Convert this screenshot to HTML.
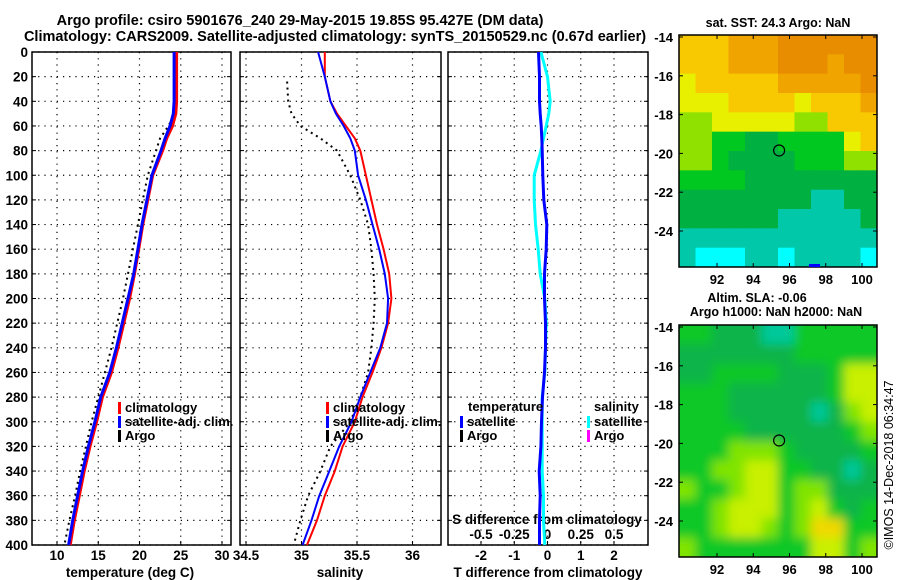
<!DOCTYPE html>
<html><head><meta charset="utf-8">
<style>
html,body{margin:0;padding:0;background:#fff;}
svg{display:block;font-family:"Liberation Sans",Arial,sans-serif;font-weight:bold;}
text{fill:#000;}
</style></head>
<body>
<svg id="fig" width="900" height="580" viewBox="0 0 900 580" xmlns="http://www.w3.org/2000/svg">
<defs><filter id="blur" x="-0.2" y="-0.2" width="1.4" height="1.4"><feGaussianBlur stdDeviation="5"/></filter>
<clipPath id="clipTop"><rect x="679" y="35" width="198" height="232"/></clipPath>
<clipPath id="clipBot"><rect x="679" y="325" width="198" height="232"/></clipPath></defs>
<text x="300" y="25" font-size="14.5" text-anchor="middle">Argo profile: csiro 5901676_240 29-May-2015 19.85S 95.427E (DM data)</text>
<text x="335" y="41" font-size="14.5" text-anchor="middle">Climatology: CARS2009. Satellite-adjusted climatology: synTS_20150529.nc (0.67d earlier)</text>
<g id="g"></g>
</svg>
<script>
// ---- data ----
const depths = [0,20,40,50,60,70,80,100,120,140,160,180,200,220,240,260,280,300,320,340,360,380,400];
const tempClim = [24.5,24.5,24.5,24.4,24.0,23.3,22.8,21.6,21.0,20.4,19.9,19.4,18.8,18.1,17.4,16.6,15.5,14.8,14.0,13.3,12.7,12.1,11.6];
const tempSat  = [24.2,24.2,24.2,24.1,23.7,23.1,22.6,21.5,20.9,20.3,19.8,19.3,18.6,17.9,17.2,16.4,15.3,14.6,13.8,13.1,12.5,11.9,11.4];
const tempArgo = [24.5,24.5,24.4,24.3,23.5,22.5,22.0,21.0,20.4,19.8,19.2,18.6,18.0,17.3,16.6,15.8,15.0,14.2,13.5,12.8,12.2,11.5,10.9];
const salClim  = [35.21,35.21,35.26,35.32,35.40,35.48,35.53,35.58,35.63,35.68,35.74,35.79,35.81,35.78,35.72,35.64,35.55,35.48,35.37,35.30,35.21,35.14,35.05];
const salSat   = [35.15,35.21,35.26,35.31,35.38,35.44,35.48,35.51,35.58,35.64,35.70,35.75,35.78,35.77,35.71,35.62,35.53,35.45,35.34,35.25,35.16,35.09,35.01];
const argoSalDepths = [24,40,50,60,70,80,100,120,140,160,180,200,220,240,260,280,300,320,340,360,380,400];
const salArgo  = [34.87,34.88,34.91,34.99,35.17,35.32,35.44,35.53,35.60,35.63,35.65,35.66,35.65,35.63,35.60,35.53,35.44,35.26,35.17,35.06,34.99,34.93];
const tDiffSat = [-0.27,-0.24,-0.24,-0.22,-0.19,-0.17,-0.16,-0.14,-0.11,-0.02,-0.04,-0.09,-0.09,-0.06,-0.06,-0.09,-0.15,-0.18,-0.2,-0.25,-0.22,-0.24,-0.24];
const sDiffSat = [-0.05,0.0,0.02,0.01,-0.01,-0.03,-0.05,-0.10,-0.10,-0.09,-0.07,-0.055,-0.02,-0.01,-0.015,-0.02,-0.04,-0.04,-0.04,-0.04,-0.03,-0.03,-0.02];
const depthTicks = [0,20,40,60,80,100,120,140,160,180,200,220,240,260,280,300,320,340,360,380,400];
const tempTicks = [10,15,20,25,30];
const salTicks = [34.5,35,35.5,36];
const salTickLabels = ["34.5","35","35.5","36"];
const tdTicks = [-2,-1,0,1,2];
const sdTicks = [-0.5,-0.25,0,0.25,0.5];
const sdTickLabels = ["-0.5","-0.25","0","0.25","0.5"];
const lonTicks = [92,94,96,98,100];
const latTicks = [-14,-16,-18,-20,-22,-24];
const argoLon = 95.427, argoLat = -19.85;
const sstPalette = ["#00ffff","#00c8a8","#00b040","#00c820","#90e000","#e8f000","#f8c800","#f0a400","#e88c00"];
const sstGrid = [
[6,6,6,7,7,7,8,8,8,8,8,8],
[6,6,6,7,7,7,8,8,8,7,8,8],
[5,6,6,6,6,6,7,7,7,7,7,8],
[5,5,5,6,6,6,6,5,6,6,6,7],
[4,4,5,5,5,5,5,4,4,6,6,6],
[4,4,3,3,2,2,3,3,3,3,5,6],
[4,4,3,2,2,2,2,3,3,3,4,4],
[3,3,3,3,2,2,2,2,2,2,2,2],
[2,2,2,2,2,2,2,2,1,1,2,2],
[2,2,2,2,2,2,1,1,1,1,1,2],
[1,1,1,1,1,1,1,1,1,1,1,1],
[1,0,0,0,1,1,0,1,1,1,1,0]];
const slaPalette = ["#00c89a","#10b448","#10c828","#80e400","#c8f000","#f0d800"];
const slaGrid = [
[2,2,1,1,1,0,0,2,2,2,2,2],
[1,1,1,1,1,1,1,2,2,2,2,2],
[1,1,2,2,2,2,1,1,1,2,4,4],
[2,2,2,1,1,1,1,1,1,2,4,4],
[2,2,2,1,1,1,1,1,0,1,3,4],
[2,2,2,2,1,1,1,1,1,1,2,3],
[2,2,2,3,3,3,2,1,1,1,1,2],
[2,2,3,3,4,4,2,2,1,1,0,1],
[3,2,2,3,4,4,2,3,3,1,1,1],
[2,2,3,4,4,4,2,3,4,2,1,2],
[2,2,3,4,4,3,2,3,5,5,2,2],
[3,2,2,2,2,2,2,2,4,4,2,3]];

// ---- helpers ----
const NS="http://www.w3.org/2000/svg";
const root=document.getElementById('g');
function mk(tag,attrs,parent){const e=document.createElementNS(NS,tag);for(const k in attrs)e.setAttribute(k,attrs[k]);(parent||root).appendChild(e);return e;}
const Y0=52,Y1=545;
const yD=d=>Y0+(d/400)*(Y1-Y0);
function lin(d0,d1,p0,p1){return v=>p0+(v-d0)/(d1-d0)*(p1-p0);}
const xT=lin(10,30,57,222);
const xS=lin(34.5,36,246,412.5);
const xTD=lin(-2,2,481,614);
const xSD=lin(-0.5,0.5,481,614);
const panels=[{x0:32,x1:231},{x0:240,x1:441},{x0:448,x1:648}];

function panelFrame(p,xs,name){
  const g=mk('g',{});
  
  
  depthTicks.forEach(d=>{const l=mk('line',{x1:p.x0,x2:p.x1,y1:yD(d),y2:yD(d),stroke:'#000','stroke-width':1.2,'stroke-dasharray':'1.2,5'},g);
    
    mk('line',{x1:p.x0,x2:p.x0+4,y1:yD(d),y2:yD(d),stroke:'#000'},g);mk('line',{x1:p.x1-4,x2:p.x1,y1:yD(d),y2:yD(d),stroke:'#000'},g);});
  xs.forEach(x=>{const l=mk('line',{x1:x,x2:x,y1:Y0,y2:Y1,stroke:'#000','stroke-width':1.2,'stroke-dasharray':'1.2,5'},g);
    
    mk('line',{x1:x,x2:x,y1:Y1-4,y2:Y1,stroke:'#000'},g);});
  const r=mk('rect',{x:p.x0,y:Y0,width:p.x1-p.x0,height:Y1-Y0,fill:'none',stroke:'#000','stroke-width':1.5},g);
  
}
panelFrame(panels[0],tempTicks.map(xT),'temperature-panel');
panelFrame(panels[1],salTicks.map(xS),'salinity-panel');
panelFrame(panels[2],tdTicks.map(xTD),'difference-panel');

depthTicks.forEach(d=>{const t=mk('text',{x:28,y:yD(d)+5,'font-size':13.5,'text-anchor':'end'});t.textContent=d;
  });
function label(x,y,s,size,name,anchor){const t=mk('text',{x:x,y:y,'font-size':size,'text-anchor':anchor||'middle'});t.textContent=s;
  return t;}
tempTicks.forEach(v=>label(xT(v),560,v,13.5,'temp-tick-label'));
salTicks.forEach((v,i)=>label(xS(v),560,salTickLabels[i],13.5,'sal-tick-label'));
tdTicks.forEach(v=>label(xTD(v),560,v,13.5,'tdiff-tick-label'));
sdTicks.forEach((v,i)=>label(xSD(v),539,sdTickLabels[i],13.5,'sdiff-tick-label'));
label(547,524,'S difference from climatology',13.5,'s-diff-axis-title');
label(130,577,'temperature (deg C)',13.5,'x-axis-title-temperature');
label(340,577,'salinity',13.5,'x-axis-title-salinity');
label(548,577,'T difference from climatology',13.5,'x-axis-title-tdiff');

function line(xs,ys,color,w,dash,name){
  const pts=xs.map((x,i)=>x.toFixed(1)+','+ys[i].toFixed(1)).join(' ');
  const a={points:pts,fill:'none',stroke:color,'stroke-width':w,'stroke-linejoin':'round'};
  if(dash)a['stroke-dasharray']=dash;
  const p=mk('polyline',a);return p;}
line(tempArgo.map(xT),depths.map(yD),'#000',2,'2,4','argo-temperature-line');
line(tempClim.map(xT),depths.map(yD),'#ff0000',3,null,'climatology-temperature-line');
line(tempSat.map(xT),depths.map(yD),'#0000ff',3,null,'satellite-temperature-line');
line(salArgo.map(xS),argoSalDepths.map(yD),'#000',2,'2,4','argo-salinity-line');
line(salClim.map(xS),depths.map(yD),'#ff0000',2,null,'climatology-salinity-line');
line(salSat.map(xS),depths.map(yD),'#0000ff',2,null,'satellite-salinity-line');
line(sDiffSat.map(xSD),depths.map(yD),'#00ffff',3,null,'salinity-diff-satellite-line');
line(tDiffSat.map(xTD),depths.map(yD),'#0000ff',3,null,'temperature-diff-satellite-line');

function legend(x,y,color,txt,name){
  const g=mk('g',{});
  mk('rect',{x:x,y:y-10,width:3,height:12,fill:color},g);
  const t=mk('text',{x:x+7,y:y,'font-size':13},g);t.textContent=txt;}
[[0,118],[1,326]].forEach(([i,x])=>{
  legend(x,412,'#ff0000','climatology','legend-climatology');
  legend(x,426,'#0000ff','satellite-adj. clim.','legend-satellite-adj');
  legend(x,440,'#000','Argo','legend-argo');});
label(468,411,'temperature',13,'legend-temperature-header','start');
legend(460,426,'#0000ff','satellite','legend-temp-satellite');
legend(460,440,'#000','Argo','legend-temp-argo');
label(594,411,'salinity',13,'legend-salinity-header','start');
legend(587,426,'#00ffff','satellite','legend-sal-satellite');
legend(587,440,'#ff00ff','Argo','legend-sal-argo');

// ---- maps ----
function map(y0,grid,pal,clip,blur,name,tickName){
  const X0=679,X1=877,H=232,Wd=198;
  const xL=lin(92,100,717,862);
  const yL=lin(-14,-24,y0+2,y0+196);
  const g=mk('g',{'clip-path':'url(#'+clip+')'});
  
  const inner=mk('g',blur?{filter:'url(#blur)'}:{},g);
  const nr=grid.length,nc=grid[0].length,cw=Wd/nc,ch=H/nr;
  const pad=blur?20:0;
  grid.forEach((row,r)=>row.forEach((v,c)=>{
    const cell=mk('rect',{x:X0+c*cw-(c==0?pad:0),y:y0+r*ch-(r==0?pad:0),width:cw+0.6+(c==0||c==nc-1?pad:0),height:ch+0.6+(r==0||r==nr-1?pad:0),fill:pal[v]},inner);
    }));
  const circ=mk('circle',{cx:xL(argoLon),cy:yL(argoLat),r:5.5,fill:'none',stroke:'#000','stroke-width':1.2});
  
  const b=mk('rect',{x:X0,y:y0,width:Wd,height:H,fill:'none',stroke:'#000','stroke-width':1.5});
  
  latTicks.forEach(v=>{mk('line',{x1:X0,x2:X0+4,y1:yL(v),y2:yL(v),stroke:'#000'});mk('line',{x1:X1-4,x2:X1,y1:yL(v),y2:yL(v),stroke:'#000'});
    label(673,yL(v)+5,v,13,tickName+'-lat-label','end');});
  lonTicks.forEach(v=>{mk('line',{x1:xL(v),x2:xL(v),y1:y0,y2:y0+4,stroke:'#000'});mk('line',{x1:xL(v),x2:xL(v),y1:y0+H-4,y2:y0+H,stroke:'#000'});
    label(xL(v),y0+H+17,v,13,tickName+'-lon-label');});
}
map(35,sstGrid,sstPalette,'clipTop',false,'sst-map','sst');
const bb=mk('rect',{x:809,y:264,width:11,height:3,fill:'#0000ff'});

map(325,slaGrid,slaPalette,'clipBot',true,'sla-map','sla');
label(778,27,'sat. SST: 24.3 Argo: NaN',12.5,'sst-map-title');
label(757,302,'Altim. SLA: -0.06',12.5,'sla-map-title');
label(776,316,'Argo h1000: NaN h2000: NaN',12.5,'sla-map-subtitle');
const cp=label(0,0,'©IMOS 14-Dec-2018 06:34:47',12.5,'timestamp-credit');
cp.setAttribute('transform','translate(893,465) rotate(-90)');
cp.setAttribute('font-weight','normal');
</script>
</body></html>
